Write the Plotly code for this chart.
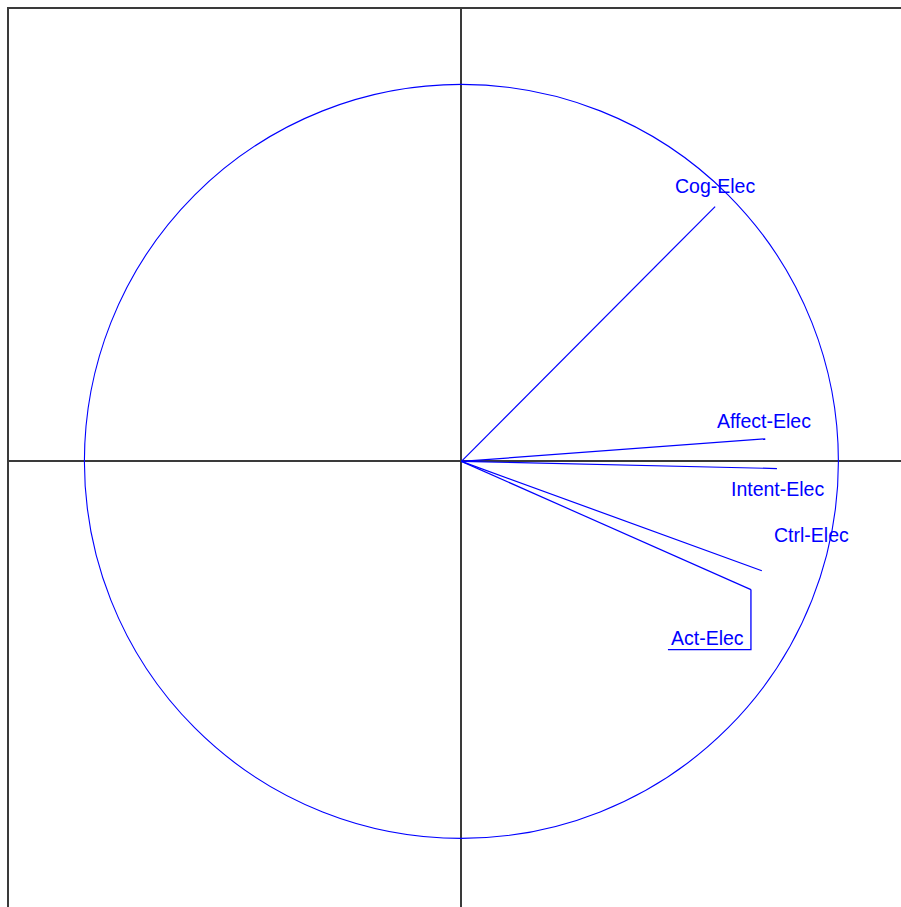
import plotly.graph_objects as go

# Variable loadings on the first two components
variables = ["Cog-Elec", "Affect-Elec", "Intent-Elec", "Ctrl-Elec", "Act-Elec"]
dim1 = [0.673, 0.806, 0.837, 0.797, 0.768]
dim2 = [0.676, 0.060, -0.019, -0.290, -0.340]

# Label placement relative to each arrow tip (pixels)
label_dx = [0, -1, 1, 50, None]
label_dy = [-21, -18, 20, -36, None]

W, H = 901, 907
ML, MT = 9, 9
SCALE = 377.0  # pixels per unit
x0 = -1.2
y1 = 1.2
x1 = x0 + (W - ML) / SCALE
y0 = y1 - (H - MT) / SCALE

BLUE = "#0000ff"
FONT = "Liberation Sans, Arial, sans-serif"
FSIZE = 19.5

fig = go.Figure()

for name, a, b in zip(variables, dim1, dim2):
    fig.add_trace(go.Scatter(x=[0, a], y=[0, b], mode="lines",
                             line=dict(color=BLUE, width=1.2),
                             hoverinfo="skip", showlegend=False, name=name))

# Unit circle
fig.add_shape(type="circle", xref="x", yref="y", x0=-1, y0=-1, x1=1, y1=1,
              line=dict(color=BLUE, width=1.1))

# Labels
for name, a, b, dx, dy in zip(variables, dim1, dim2, label_dx, label_dy):
    if dx is None:
        continue
    fig.add_annotation(x=a, y=b, xref="x", yref="y", text=name, showarrow=False,
                       xshift=dx, yshift=-dy,
                       font=dict(family=FONT, size=FSIZE, color=BLUE))

# Act-Elec label with leader line underneath
ia = variables.index("Act-Elec")
ax, ay = dim1[ia], dim2[ia]
drop = 60 / SCALE
under_len = 83 / SCALE
fig.add_shape(type="path", xref="x", yref="y",
              path=f"M {ax} {ay} L {ax} {ay - drop} L {ax - under_len} {ay - drop}",
              line=dict(color=BLUE, width=1.3))
fig.add_annotation(x=ax - under_len / 2, y=ay - drop, xref="x", yref="y",
                   text=variables[ia], showarrow=False, yanchor="bottom",
                   xshift=-2, yshift=-1,
                   font=dict(family=FONT, size=FSIZE, color=BLUE))

axis_common = dict(showgrid=False, showticklabels=False, ticks="",
                   zeroline=True, zerolinecolor="#3a3a3a", zerolinewidth=2,
                   showline=True, linecolor="#3a3a3a", linewidth=2, mirror=False)

fig.update_layout(
    width=W, height=H,
    margin=dict(l=ML, t=MT, r=0, b=0, pad=0),
    paper_bgcolor="white", plot_bgcolor="white",
    xaxis=dict(range=[x0, x1], side="top", **axis_common),
    yaxis=dict(range=[y0, y1], side="left", **axis_common),
    showlegend=False,
)

fig.write_html("out.html")
